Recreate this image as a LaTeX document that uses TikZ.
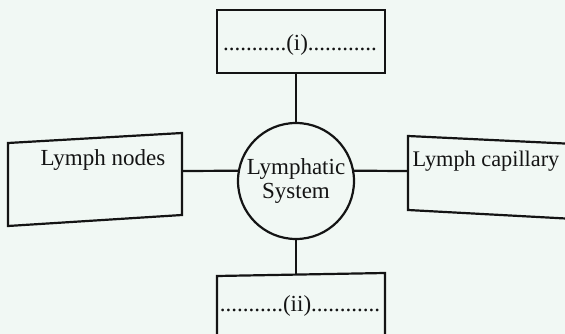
\documentclass[tikz,border=0pt]{standalone}
\usepackage{fontspec}
\setmainfont{Liberation Serif}
\definecolor{bgc}{RGB}{241,248,244}
\definecolor{inkc}{RGB}{20,20,20}
\begin{document}
\begin{tikzpicture}[x=1pt,y=-1pt,
  line width=2.2pt, draw=inkc,
  every node/.style={text=inkc, font=\fontsize{23}{25}\selectfont},
  shapeline/.style={draw=inkc, line width=2.2pt, line join=miter},
  conn/.style={draw=inkc, line width=2.2pt},
  hub/.style={circle, draw=inkc, line width=2.2pt, minimum size=116pt, inner sep=0pt, align=center},
  topbox/.style={rectangle, draw=inkc, line width=2.2pt, minimum width=168pt, minimum height=63pt, inner sep=0pt}
]
\useasboundingbox (0,0) rectangle (565,334);
\clip (0,0) rectangle (565,334);
\fill[bgc] (0,0) rectangle (565,334);

% top box
\node[topbox] (top) at (301,41.5) {};
\node[anchor=base] (toptxt) at (300,51) {...........(i)............};

% hub circle
\node[hub] (sys) at (296,181) {Lymphatic\\[-1pt]System};

% left box (slightly skewed)
\coordinate (l1) at (8,143);
\coordinate (l2) at (182,133);
\coordinate (l3) at (182,215);
\coordinate (l4) at (8,226);
\draw[shapeline] (l1) -- (l2) -- (l3) -- (l4) -- cycle;
\node[anchor=base] (lnodes) at (103,165) {Lymph nodes};
\coordinate (lconn) at (182,171);

% right box (extends beyond edge)
\coordinate (r1) at (408,136);
\coordinate (r2) at (575,144);
\coordinate (r3) at (575,219);
\coordinate (r4) at (408,210);
\draw[shapeline] (r2) -- (r1) -- (r4) -- (r3);
\node[anchor=base, font=\fontsize{22.3}{25}\selectfont] (lcap) at (486,167) {Lymph capillary};
\coordinate (rconn) at (408,171);

% bottom box (extends beyond edge)
\coordinate (b1) at (217,276);
\coordinate (b2) at (385,273);
\coordinate (b3) at (385,345);
\coordinate (b4) at (217,345);
\draw[shapeline] (b4) -- (b1) -- (b2) -- (b3);
\node[anchor=base] (bottxt) at (300,311) {...........(ii)............};
\coordinate (bconn) at (296,274.5);

% connectors
\draw[conn] (sys.north |- top.south) -- (sys.north);
\draw[conn] (lconn) -- (sys.170);
\draw[conn] (sys.10) -- (rconn);
\draw[conn] (sys.south) -- (bconn);
\end{tikzpicture}
\end{document}
